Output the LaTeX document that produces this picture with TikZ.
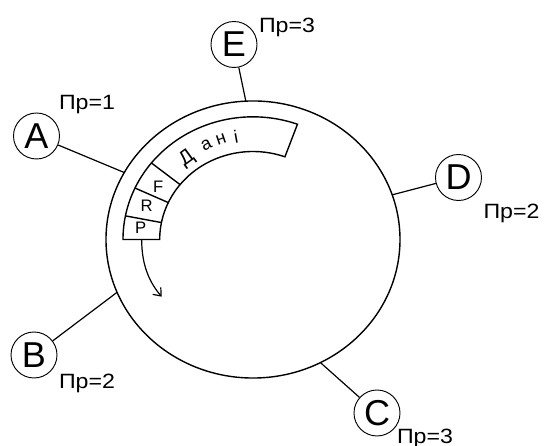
\documentclass[tikz,border=0pt]{standalone}
\usepackage{fontspec}
\setmainfont{Liberation Sans}
\newfontfamily\labfont[FakeStretch=1.12]{Liberation Sans}
\usetikzlibrary{calc,arrows.meta}
\begin{document}
\begin{tikzpicture}[x=0.75pt,y=0.75pt,
  station/.style={draw, circle, line width=0.7pt, minimum size=34.5pt, inner sep=0pt, font=\fontsize{27}{27}\selectfont},
  prlabel/.style={font=\labfont\fontsize{15.5}{15.5}\selectfont, inner sep=0pt},
  field/.style={font=\fontsize{12.5}{12.5}\selectfont, inner sep=0pt},
  dataletter/.style={font=\fontsize{13.5}{13.5}\selectfont, inner sep=0pt},
  ring/.style={line width=1.05pt},
  link/.style={line width=0.9pt}]
\useasboundingbox (0,0) rectangle (544,446);
\coordinate (O) at (253,206.5);
% main ring
\draw[ring] (O) ellipse [x radius=110.25pt, y radius=103.9pt];
% frame band
\draw[ring] ($(O)+(70:97.5pt and 92pt)$) arc[start angle=70, end angle=180, x radius=97.5pt, y radius=92pt]
  -- ($(O)+(180:70pt and 66pt)$) arc[start angle=180, end angle=70, x radius=70pt, y radius=66pt] -- cycle;
\foreach \t in {141.4,155.2,168.9}
  \draw[ring] ($(O)+(\t:97.5pt and 92pt)$) -- ($(O)+(\t:70pt and 66pt)$);
% field letters
\node[field] (fP) at (140.8,218.5) {P};
\node[field] (fR) at (146.7,240.2) {R};
\node[field] (fF) at (158.3,259.3) {F};
\node[dataletter, font=\fontsize{15}{15}\selectfont, rotate=36] (d1) at (187,287.5) {Д};
\node[dataletter, rotate=27] (d2) at (206.5,301.5) {а};
\node[dataletter, rotate=19] (d3) at (221,306.5) {н};
\node[dataletter, rotate=10.2] (d4) at (236,309.5) {і};
% arrow
\coordinate (arrS) at (141.7,206);
\coordinate (arrE) at (161.7,149.3);
\draw[link, -{Straight Barb[length=5pt,width=8pt]}] (arrS) .. controls (141.7,180) and (150,163) .. (arrE);
% attachment points on the ring
\coordinate (pA) at ($(O)+(151.1:110.25pt and 103.9pt)$);
\coordinate (pE) at ($(O)+(92.8:110.25pt and 103.9pt)$);
\coordinate (pD) at ($(O)+(18.8:110.25pt and 103.9pt)$);
\coordinate (pB) at ($(O)+(202.4:110.25pt and 103.9pt)$);
\coordinate (pC) at ($(O)+(297.3:110.25pt and 103.9pt)$);
% stations
\node[station] (A) at (36.5,310) {A};
\node[station] (E) at (234,401.5) {E};
\node[station] (D) at (458.5,268.5) {D};
\node[station] (B) at (34,91) {B};
\node[station] (C) at (377,33) {C};
\draw[link] (A) -- (pA);
\draw[link] (E) -- (pE);
\draw[link] (D) -- (pD);
\draw[link] (B) -- (pB);
\draw[link] (C) -- (pC);
% priority labels
\node[prlabel] (lA) at (87,341) {Пр=1};
\node[prlabel] (lE) at (287,418.5) {Пр=3};
\node[prlabel] (lD) at (511.5,232.5) {Пр=2};
\node[prlabel] (lB) at (87,63) {Пр=2};
\node[prlabel] (lC) at (425,8) {Пр=3};
\end{tikzpicture}
\end{document}
